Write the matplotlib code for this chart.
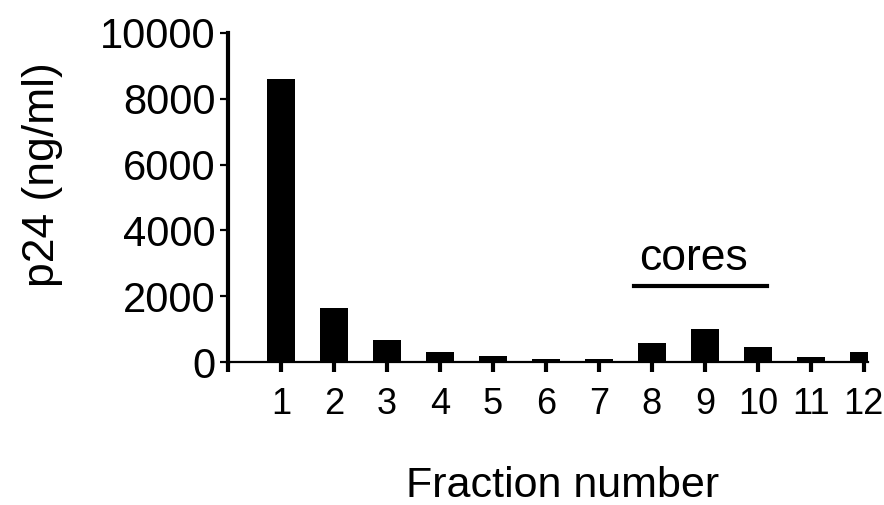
import matplotlib.pyplot as plt

plt.rcParams['font.family'] = ['Liberation Sans', 'DejaVu Sans']

# data
fractions = [1, 2, 3, 4, 5, 6, 7, 8, 9, 10, 11, 12]
p24 = [8600, 1630, 670, 300, 180, 100, 80, 580, 1000, 460, 150, 310]
y_ticks = [0, 2000, 4000, 6000, 8000, 10000]
x_ticks = [0] + fractions
x_labels = [''] + [str(f) for f in fractions]

fig = plt.figure(figsize=(8.84, 5.05), dpi=100)
ax = fig.add_axes([0.258, 0.283, 0.724, 0.652])

ax.bar(fractions, p24, width=0.53, color='black')

ax.set_xlim(0, 12.08)
ax.set_ylim(0, 10000)
ax.set_yticks(y_ticks)
ax.set_xticks(x_ticks)
ax.set_xticklabels(x_labels)

ax.spines['top'].set_visible(False)
ax.spines['right'].set_visible(False)
ax.spines['left'].set_linewidth(3)
ax.spines['bottom'].set_linewidth(1.6)

ax.tick_params(axis='y', length=6, width=1.6, pad=3, labelsize=30)
ax.tick_params(axis='x', length=7, width=3, pad=11, labelsize=26)

ax.set_ylabel('p24 (ng/ml)', fontsize=32)
ax.set_xlabel('Fraction number', fontsize=31)
ax.yaxis.set_label_coords(-0.258, 0.568)
ax.xaxis.set_label_coords(0.523, -0.315)

# "cores" bracket over fractions 8-10
ax.plot([7.66, 10.17], [2310, 2310], color='black', linewidth=3, clip_on=False)
ax.text(8.79, 2800, 'cores', ha='center', va='baseline', fontsize=32)

fig.savefig('out.png', dpi=100)
